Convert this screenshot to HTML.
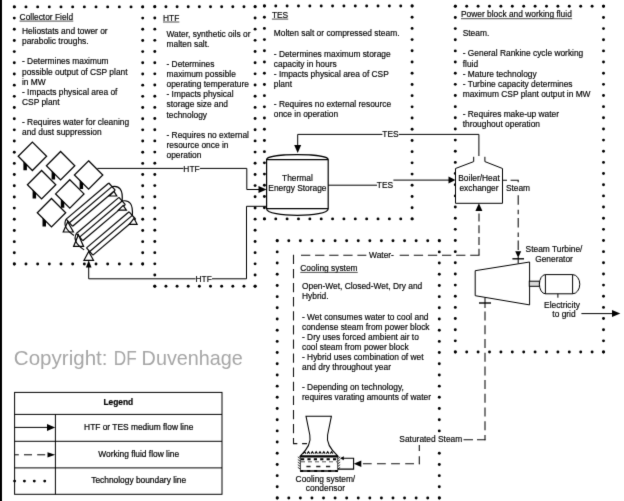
<!DOCTYPE html>
<html><head><meta charset="utf-8"><style>
html,body{margin:0;padding:0;background:#fff;}
svg{display:block;will-change:transform;font-family:"Liberation Sans",sans-serif;}
</style></head><body>
<svg width="624" height="501" viewBox="0 0 624 501">
<defs><filter id="sm" color-interpolation-filters="sRGB" x="0" y="0" width="624" height="501" filterUnits="userSpaceOnUse"><feConvolveMatrix order="3" kernelMatrix="0.01 0.08 0.01 0.08 0.64 0.08 0.01 0.08 0.01" edgeMode="duplicate"/></filter></defs>
<g filter="url(#sm)">
<rect x="0" y="0" width="624" height="501" fill="#fff"/>
<rect x="-2" y="-2" width="4" height="505" fill="#000"/>
<g fill="#000">
<circle cx="14.30" cy="6.90" r="1.45"/>
<circle cx="25.97" cy="6.90" r="1.45"/>
<circle cx="37.65" cy="6.90" r="1.45"/>
<circle cx="49.32" cy="6.90" r="1.45"/>
<circle cx="60.99" cy="6.90" r="1.45"/>
<circle cx="72.66" cy="6.90" r="1.45"/>
<circle cx="84.34" cy="6.90" r="1.45"/>
<circle cx="96.01" cy="6.90" r="1.45"/>
<circle cx="107.68" cy="6.90" r="1.45"/>
<circle cx="119.35" cy="6.90" r="1.45"/>
<circle cx="131.03" cy="6.90" r="1.45"/>
<circle cx="142.70" cy="6.90" r="1.45"/>
<circle cx="14.30" cy="264.00" r="1.45"/>
<circle cx="25.97" cy="264.00" r="1.45"/>
<circle cx="37.65" cy="264.00" r="1.45"/>
<circle cx="49.32" cy="264.00" r="1.45"/>
<circle cx="60.99" cy="264.00" r="1.45"/>
<circle cx="72.66" cy="264.00" r="1.45"/>
<circle cx="84.34" cy="264.00" r="1.45"/>
<circle cx="96.01" cy="264.00" r="1.45"/>
<circle cx="107.68" cy="264.00" r="1.45"/>
<circle cx="119.35" cy="264.00" r="1.45"/>
<circle cx="131.03" cy="264.00" r="1.45"/>
<circle cx="142.70" cy="264.00" r="1.45"/>
<circle cx="14.30" cy="6.90" r="1.45"/>
<circle cx="14.30" cy="18.08" r="1.45"/>
<circle cx="14.30" cy="29.26" r="1.45"/>
<circle cx="14.30" cy="40.43" r="1.45"/>
<circle cx="14.30" cy="51.61" r="1.45"/>
<circle cx="14.30" cy="62.79" r="1.45"/>
<circle cx="14.30" cy="73.97" r="1.45"/>
<circle cx="14.30" cy="85.15" r="1.45"/>
<circle cx="14.30" cy="96.33" r="1.45"/>
<circle cx="14.30" cy="107.50" r="1.45"/>
<circle cx="14.30" cy="118.68" r="1.45"/>
<circle cx="14.30" cy="129.86" r="1.45"/>
<circle cx="14.30" cy="141.04" r="1.45"/>
<circle cx="14.30" cy="152.22" r="1.45"/>
<circle cx="14.30" cy="163.40" r="1.45"/>
<circle cx="14.30" cy="174.57" r="1.45"/>
<circle cx="14.30" cy="185.75" r="1.45"/>
<circle cx="14.30" cy="196.93" r="1.45"/>
<circle cx="14.30" cy="208.11" r="1.45"/>
<circle cx="14.30" cy="219.29" r="1.45"/>
<circle cx="14.30" cy="230.47" r="1.45"/>
<circle cx="14.30" cy="241.64" r="1.45"/>
<circle cx="14.30" cy="252.82" r="1.45"/>
<circle cx="14.30" cy="264.00" r="1.45"/>
<circle cx="142.70" cy="6.90" r="1.45"/>
<circle cx="142.70" cy="18.08" r="1.45"/>
<circle cx="142.70" cy="29.26" r="1.45"/>
<circle cx="142.70" cy="40.43" r="1.45"/>
<circle cx="142.70" cy="51.61" r="1.45"/>
<circle cx="142.70" cy="62.79" r="1.45"/>
<circle cx="142.70" cy="73.97" r="1.45"/>
<circle cx="142.70" cy="85.15" r="1.45"/>
<circle cx="142.70" cy="96.33" r="1.45"/>
<circle cx="142.70" cy="107.50" r="1.45"/>
<circle cx="142.70" cy="118.68" r="1.45"/>
<circle cx="142.70" cy="129.86" r="1.45"/>
<circle cx="142.70" cy="141.04" r="1.45"/>
<circle cx="142.70" cy="152.22" r="1.45"/>
<circle cx="142.70" cy="163.40" r="1.45"/>
<circle cx="142.70" cy="174.57" r="1.45"/>
<circle cx="142.70" cy="185.75" r="1.45"/>
<circle cx="142.70" cy="196.93" r="1.45"/>
<circle cx="142.70" cy="208.11" r="1.45"/>
<circle cx="142.70" cy="219.29" r="1.45"/>
<circle cx="142.70" cy="230.47" r="1.45"/>
<circle cx="142.70" cy="241.64" r="1.45"/>
<circle cx="142.70" cy="252.82" r="1.45"/>
<circle cx="142.70" cy="264.00" r="1.45"/>
<circle cx="154.80" cy="6.80" r="1.45"/>
<circle cx="165.94" cy="6.80" r="1.45"/>
<circle cx="177.09" cy="6.80" r="1.45"/>
<circle cx="188.23" cy="6.80" r="1.45"/>
<circle cx="199.38" cy="6.80" r="1.45"/>
<circle cx="210.52" cy="6.80" r="1.45"/>
<circle cx="221.67" cy="6.80" r="1.45"/>
<circle cx="232.81" cy="6.80" r="1.45"/>
<circle cx="243.96" cy="6.80" r="1.45"/>
<circle cx="255.10" cy="6.80" r="1.45"/>
<circle cx="154.80" cy="286.20" r="1.45"/>
<circle cx="165.94" cy="286.20" r="1.45"/>
<circle cx="177.09" cy="286.20" r="1.45"/>
<circle cx="188.23" cy="286.20" r="1.45"/>
<circle cx="199.38" cy="286.20" r="1.45"/>
<circle cx="210.52" cy="286.20" r="1.45"/>
<circle cx="221.67" cy="286.20" r="1.45"/>
<circle cx="232.81" cy="286.20" r="1.45"/>
<circle cx="243.96" cy="286.20" r="1.45"/>
<circle cx="255.10" cy="286.20" r="1.45"/>
<circle cx="154.80" cy="6.80" r="1.45"/>
<circle cx="154.80" cy="17.98" r="1.45"/>
<circle cx="154.80" cy="29.15" r="1.45"/>
<circle cx="154.80" cy="40.33" r="1.45"/>
<circle cx="154.80" cy="51.50" r="1.45"/>
<circle cx="154.80" cy="62.68" r="1.45"/>
<circle cx="154.80" cy="73.86" r="1.45"/>
<circle cx="154.80" cy="85.03" r="1.45"/>
<circle cx="154.80" cy="96.21" r="1.45"/>
<circle cx="154.80" cy="107.38" r="1.45"/>
<circle cx="154.80" cy="118.56" r="1.45"/>
<circle cx="154.80" cy="129.74" r="1.45"/>
<circle cx="154.80" cy="140.91" r="1.45"/>
<circle cx="154.80" cy="152.09" r="1.45"/>
<circle cx="154.80" cy="163.26" r="1.45"/>
<circle cx="154.80" cy="174.44" r="1.45"/>
<circle cx="154.80" cy="185.62" r="1.45"/>
<circle cx="154.80" cy="196.79" r="1.45"/>
<circle cx="154.80" cy="207.97" r="1.45"/>
<circle cx="154.80" cy="219.14" r="1.45"/>
<circle cx="154.80" cy="230.32" r="1.45"/>
<circle cx="154.80" cy="241.50" r="1.45"/>
<circle cx="154.80" cy="252.67" r="1.45"/>
<circle cx="154.80" cy="263.85" r="1.45"/>
<circle cx="154.80" cy="275.02" r="1.45"/>
<circle cx="154.80" cy="286.20" r="1.45"/>
<circle cx="255.10" cy="6.80" r="1.45"/>
<circle cx="255.10" cy="17.98" r="1.45"/>
<circle cx="255.10" cy="29.15" r="1.45"/>
<circle cx="255.10" cy="40.33" r="1.45"/>
<circle cx="255.10" cy="51.50" r="1.45"/>
<circle cx="255.10" cy="62.68" r="1.45"/>
<circle cx="255.10" cy="73.86" r="1.45"/>
<circle cx="255.10" cy="85.03" r="1.45"/>
<circle cx="255.10" cy="96.21" r="1.45"/>
<circle cx="255.10" cy="107.38" r="1.45"/>
<circle cx="255.10" cy="118.56" r="1.45"/>
<circle cx="255.10" cy="129.74" r="1.45"/>
<circle cx="255.10" cy="140.91" r="1.45"/>
<circle cx="255.10" cy="152.09" r="1.45"/>
<circle cx="255.10" cy="163.26" r="1.45"/>
<circle cx="255.10" cy="174.44" r="1.45"/>
<circle cx="255.10" cy="185.62" r="1.45"/>
<circle cx="255.10" cy="196.79" r="1.45"/>
<circle cx="255.10" cy="207.97" r="1.45"/>
<circle cx="255.10" cy="219.14" r="1.45"/>
<circle cx="255.10" cy="230.32" r="1.45"/>
<circle cx="255.10" cy="241.50" r="1.45"/>
<circle cx="255.10" cy="252.67" r="1.45"/>
<circle cx="255.10" cy="263.85" r="1.45"/>
<circle cx="255.10" cy="275.02" r="1.45"/>
<circle cx="255.10" cy="286.20" r="1.45"/>
<circle cx="264.40" cy="6.00" r="1.45"/>
<circle cx="275.76" cy="6.00" r="1.45"/>
<circle cx="287.12" cy="6.00" r="1.45"/>
<circle cx="298.48" cy="6.00" r="1.45"/>
<circle cx="309.85" cy="6.00" r="1.45"/>
<circle cx="321.21" cy="6.00" r="1.45"/>
<circle cx="332.57" cy="6.00" r="1.45"/>
<circle cx="343.93" cy="6.00" r="1.45"/>
<circle cx="355.29" cy="6.00" r="1.45"/>
<circle cx="366.65" cy="6.00" r="1.45"/>
<circle cx="378.02" cy="6.00" r="1.45"/>
<circle cx="389.38" cy="6.00" r="1.45"/>
<circle cx="400.74" cy="6.00" r="1.45"/>
<circle cx="412.10" cy="6.00" r="1.45"/>
<circle cx="264.40" cy="218.90" r="1.45"/>
<circle cx="275.76" cy="218.90" r="1.45"/>
<circle cx="287.12" cy="218.90" r="1.45"/>
<circle cx="298.48" cy="218.90" r="1.45"/>
<circle cx="309.85" cy="218.90" r="1.45"/>
<circle cx="321.21" cy="218.90" r="1.45"/>
<circle cx="332.57" cy="218.90" r="1.45"/>
<circle cx="343.93" cy="218.90" r="1.45"/>
<circle cx="355.29" cy="218.90" r="1.45"/>
<circle cx="366.65" cy="218.90" r="1.45"/>
<circle cx="378.02" cy="218.90" r="1.45"/>
<circle cx="389.38" cy="218.90" r="1.45"/>
<circle cx="400.74" cy="218.90" r="1.45"/>
<circle cx="412.10" cy="218.90" r="1.45"/>
<circle cx="264.40" cy="6.00" r="1.45"/>
<circle cx="264.40" cy="17.21" r="1.45"/>
<circle cx="264.40" cy="28.41" r="1.45"/>
<circle cx="264.40" cy="39.62" r="1.45"/>
<circle cx="264.40" cy="50.82" r="1.45"/>
<circle cx="264.40" cy="62.03" r="1.45"/>
<circle cx="264.40" cy="73.23" r="1.45"/>
<circle cx="264.40" cy="84.44" r="1.45"/>
<circle cx="264.40" cy="95.64" r="1.45"/>
<circle cx="264.40" cy="106.85" r="1.45"/>
<circle cx="264.40" cy="118.05" r="1.45"/>
<circle cx="264.40" cy="129.26" r="1.45"/>
<circle cx="264.40" cy="140.46" r="1.45"/>
<circle cx="264.40" cy="151.67" r="1.45"/>
<circle cx="264.40" cy="162.87" r="1.45"/>
<circle cx="264.40" cy="174.08" r="1.45"/>
<circle cx="264.40" cy="185.28" r="1.45"/>
<circle cx="264.40" cy="196.49" r="1.45"/>
<circle cx="264.40" cy="207.69" r="1.45"/>
<circle cx="264.40" cy="218.90" r="1.45"/>
<circle cx="412.10" cy="6.00" r="1.45"/>
<circle cx="412.10" cy="17.21" r="1.45"/>
<circle cx="412.10" cy="28.41" r="1.45"/>
<circle cx="412.10" cy="39.62" r="1.45"/>
<circle cx="412.10" cy="50.82" r="1.45"/>
<circle cx="412.10" cy="62.03" r="1.45"/>
<circle cx="412.10" cy="73.23" r="1.45"/>
<circle cx="412.10" cy="84.44" r="1.45"/>
<circle cx="412.10" cy="95.64" r="1.45"/>
<circle cx="412.10" cy="106.85" r="1.45"/>
<circle cx="412.10" cy="118.05" r="1.45"/>
<circle cx="412.10" cy="129.26" r="1.45"/>
<circle cx="412.10" cy="140.46" r="1.45"/>
<circle cx="412.10" cy="151.67" r="1.45"/>
<circle cx="412.10" cy="162.87" r="1.45"/>
<circle cx="412.10" cy="174.08" r="1.45"/>
<circle cx="412.10" cy="185.28" r="1.45"/>
<circle cx="412.10" cy="196.49" r="1.45"/>
<circle cx="412.10" cy="207.69" r="1.45"/>
<circle cx="412.10" cy="218.90" r="1.45"/>
<circle cx="455.30" cy="6.30" r="1.45"/>
<circle cx="466.70" cy="6.30" r="1.45"/>
<circle cx="478.10" cy="6.30" r="1.45"/>
<circle cx="489.50" cy="6.30" r="1.45"/>
<circle cx="500.90" cy="6.30" r="1.45"/>
<circle cx="512.30" cy="6.30" r="1.45"/>
<circle cx="523.70" cy="6.30" r="1.45"/>
<circle cx="535.10" cy="6.30" r="1.45"/>
<circle cx="546.50" cy="6.30" r="1.45"/>
<circle cx="557.90" cy="6.30" r="1.45"/>
<circle cx="569.30" cy="6.30" r="1.45"/>
<circle cx="580.70" cy="6.30" r="1.45"/>
<circle cx="592.10" cy="6.30" r="1.45"/>
<circle cx="603.50" cy="6.30" r="1.45"/>
<circle cx="455.30" cy="352.00" r="1.45"/>
<circle cx="466.70" cy="352.00" r="1.45"/>
<circle cx="478.10" cy="352.00" r="1.45"/>
<circle cx="489.50" cy="352.00" r="1.45"/>
<circle cx="500.90" cy="352.00" r="1.45"/>
<circle cx="512.30" cy="352.00" r="1.45"/>
<circle cx="523.70" cy="352.00" r="1.45"/>
<circle cx="535.10" cy="352.00" r="1.45"/>
<circle cx="546.50" cy="352.00" r="1.45"/>
<circle cx="557.90" cy="352.00" r="1.45"/>
<circle cx="569.30" cy="352.00" r="1.45"/>
<circle cx="580.70" cy="352.00" r="1.45"/>
<circle cx="592.10" cy="352.00" r="1.45"/>
<circle cx="603.50" cy="352.00" r="1.45"/>
<circle cx="455.30" cy="6.30" r="1.45"/>
<circle cx="455.30" cy="17.45" r="1.45"/>
<circle cx="455.30" cy="28.60" r="1.45"/>
<circle cx="455.30" cy="39.75" r="1.45"/>
<circle cx="455.30" cy="50.91" r="1.45"/>
<circle cx="455.30" cy="62.06" r="1.45"/>
<circle cx="455.30" cy="73.21" r="1.45"/>
<circle cx="455.30" cy="84.36" r="1.45"/>
<circle cx="455.30" cy="95.51" r="1.45"/>
<circle cx="455.30" cy="106.66" r="1.45"/>
<circle cx="455.30" cy="117.82" r="1.45"/>
<circle cx="455.30" cy="128.97" r="1.45"/>
<circle cx="455.30" cy="140.12" r="1.45"/>
<circle cx="455.30" cy="151.27" r="1.45"/>
<circle cx="455.30" cy="162.42" r="1.45"/>
<circle cx="455.30" cy="173.57" r="1.45"/>
<circle cx="455.30" cy="184.73" r="1.45"/>
<circle cx="455.30" cy="195.88" r="1.45"/>
<circle cx="455.30" cy="207.03" r="1.45"/>
<circle cx="455.30" cy="218.18" r="1.45"/>
<circle cx="455.30" cy="229.33" r="1.45"/>
<circle cx="455.30" cy="240.48" r="1.45"/>
<circle cx="455.30" cy="251.64" r="1.45"/>
<circle cx="455.30" cy="262.79" r="1.45"/>
<circle cx="455.30" cy="273.94" r="1.45"/>
<circle cx="455.30" cy="285.09" r="1.45"/>
<circle cx="455.30" cy="296.24" r="1.45"/>
<circle cx="455.30" cy="307.39" r="1.45"/>
<circle cx="455.30" cy="318.55" r="1.45"/>
<circle cx="455.30" cy="329.70" r="1.45"/>
<circle cx="455.30" cy="340.85" r="1.45"/>
<circle cx="455.30" cy="352.00" r="1.45"/>
<circle cx="603.50" cy="6.30" r="1.45"/>
<circle cx="603.50" cy="17.45" r="1.45"/>
<circle cx="603.50" cy="28.60" r="1.45"/>
<circle cx="603.50" cy="39.75" r="1.45"/>
<circle cx="603.50" cy="50.91" r="1.45"/>
<circle cx="603.50" cy="62.06" r="1.45"/>
<circle cx="603.50" cy="73.21" r="1.45"/>
<circle cx="603.50" cy="84.36" r="1.45"/>
<circle cx="603.50" cy="95.51" r="1.45"/>
<circle cx="603.50" cy="106.66" r="1.45"/>
<circle cx="603.50" cy="117.82" r="1.45"/>
<circle cx="603.50" cy="128.97" r="1.45"/>
<circle cx="603.50" cy="140.12" r="1.45"/>
<circle cx="603.50" cy="151.27" r="1.45"/>
<circle cx="603.50" cy="162.42" r="1.45"/>
<circle cx="603.50" cy="173.57" r="1.45"/>
<circle cx="603.50" cy="184.73" r="1.45"/>
<circle cx="603.50" cy="195.88" r="1.45"/>
<circle cx="603.50" cy="207.03" r="1.45"/>
<circle cx="603.50" cy="218.18" r="1.45"/>
<circle cx="603.50" cy="229.33" r="1.45"/>
<circle cx="603.50" cy="240.48" r="1.45"/>
<circle cx="603.50" cy="251.64" r="1.45"/>
<circle cx="603.50" cy="262.79" r="1.45"/>
<circle cx="603.50" cy="273.94" r="1.45"/>
<circle cx="603.50" cy="285.09" r="1.45"/>
<circle cx="603.50" cy="296.24" r="1.45"/>
<circle cx="603.50" cy="307.39" r="1.45"/>
<circle cx="603.50" cy="318.55" r="1.45"/>
<circle cx="603.50" cy="329.70" r="1.45"/>
<circle cx="603.50" cy="340.85" r="1.45"/>
<circle cx="603.50" cy="352.00" r="1.45"/>
<circle cx="277.20" cy="240.70" r="1.45"/>
<circle cx="288.78" cy="240.70" r="1.45"/>
<circle cx="300.36" cy="240.70" r="1.45"/>
<circle cx="311.94" cy="240.70" r="1.45"/>
<circle cx="323.51" cy="240.70" r="1.45"/>
<circle cx="335.09" cy="240.70" r="1.45"/>
<circle cx="346.67" cy="240.70" r="1.45"/>
<circle cx="358.25" cy="240.70" r="1.45"/>
<circle cx="369.83" cy="240.70" r="1.45"/>
<circle cx="381.41" cy="240.70" r="1.45"/>
<circle cx="392.99" cy="240.70" r="1.45"/>
<circle cx="404.56" cy="240.70" r="1.45"/>
<circle cx="416.14" cy="240.70" r="1.45"/>
<circle cx="427.72" cy="240.70" r="1.45"/>
<circle cx="439.30" cy="240.70" r="1.45"/>
<circle cx="277.20" cy="498.00" r="1.45"/>
<circle cx="288.78" cy="498.00" r="1.45"/>
<circle cx="300.36" cy="498.00" r="1.45"/>
<circle cx="311.94" cy="498.00" r="1.45"/>
<circle cx="323.51" cy="498.00" r="1.45"/>
<circle cx="335.09" cy="498.00" r="1.45"/>
<circle cx="346.67" cy="498.00" r="1.45"/>
<circle cx="358.25" cy="498.00" r="1.45"/>
<circle cx="369.83" cy="498.00" r="1.45"/>
<circle cx="381.41" cy="498.00" r="1.45"/>
<circle cx="392.99" cy="498.00" r="1.45"/>
<circle cx="404.56" cy="498.00" r="1.45"/>
<circle cx="416.14" cy="498.00" r="1.45"/>
<circle cx="427.72" cy="498.00" r="1.45"/>
<circle cx="439.30" cy="498.00" r="1.45"/>
<circle cx="277.20" cy="240.70" r="1.45"/>
<circle cx="277.20" cy="251.89" r="1.45"/>
<circle cx="277.20" cy="263.07" r="1.45"/>
<circle cx="277.20" cy="274.26" r="1.45"/>
<circle cx="277.20" cy="285.45" r="1.45"/>
<circle cx="277.20" cy="296.63" r="1.45"/>
<circle cx="277.20" cy="307.82" r="1.45"/>
<circle cx="277.20" cy="319.01" r="1.45"/>
<circle cx="277.20" cy="330.20" r="1.45"/>
<circle cx="277.20" cy="341.38" r="1.45"/>
<circle cx="277.20" cy="352.57" r="1.45"/>
<circle cx="277.20" cy="363.76" r="1.45"/>
<circle cx="277.20" cy="374.94" r="1.45"/>
<circle cx="277.20" cy="386.13" r="1.45"/>
<circle cx="277.20" cy="397.32" r="1.45"/>
<circle cx="277.20" cy="408.50" r="1.45"/>
<circle cx="277.20" cy="419.69" r="1.45"/>
<circle cx="277.20" cy="430.88" r="1.45"/>
<circle cx="277.20" cy="442.07" r="1.45"/>
<circle cx="277.20" cy="453.25" r="1.45"/>
<circle cx="277.20" cy="464.44" r="1.45"/>
<circle cx="277.20" cy="475.63" r="1.45"/>
<circle cx="277.20" cy="486.81" r="1.45"/>
<circle cx="277.20" cy="498.00" r="1.45"/>
<circle cx="439.30" cy="240.70" r="1.45"/>
<circle cx="439.30" cy="251.89" r="1.45"/>
<circle cx="439.30" cy="263.07" r="1.45"/>
<circle cx="439.30" cy="274.26" r="1.45"/>
<circle cx="439.30" cy="285.45" r="1.45"/>
<circle cx="439.30" cy="296.63" r="1.45"/>
<circle cx="439.30" cy="307.82" r="1.45"/>
<circle cx="439.30" cy="319.01" r="1.45"/>
<circle cx="439.30" cy="330.20" r="1.45"/>
<circle cx="439.30" cy="341.38" r="1.45"/>
<circle cx="439.30" cy="352.57" r="1.45"/>
<circle cx="439.30" cy="363.76" r="1.45"/>
<circle cx="439.30" cy="374.94" r="1.45"/>
<circle cx="439.30" cy="386.13" r="1.45"/>
<circle cx="439.30" cy="397.32" r="1.45"/>
<circle cx="439.30" cy="408.50" r="1.45"/>
<circle cx="439.30" cy="419.69" r="1.45"/>
<circle cx="439.30" cy="430.88" r="1.45"/>
<circle cx="439.30" cy="442.07" r="1.45"/>
<circle cx="439.30" cy="453.25" r="1.45"/>
<circle cx="439.30" cy="464.44" r="1.45"/>
<circle cx="439.30" cy="475.63" r="1.45"/>
<circle cx="439.30" cy="486.81" r="1.45"/>
<circle cx="439.30" cy="498.00" r="1.45"/>
</g>
<g fill="#000" stroke="#000" stroke-width="0.16">
<text x="19.6" y="19.6" font-size="8.4">Collector Field</text>
<line x1="19.6" y1="21.1" x2="73.28" y2="21.1" stroke="#3a3a3a" stroke-width="0.9"/>
<text x="22" y="34.1" text-anchor="start" font-size="8.4" >Heliostats and tower or</text>
<text x="22" y="44.2" text-anchor="start" font-size="8.4" >parabolic troughs.</text>
<text x="22" y="64.4" text-anchor="start" font-size="8.4" >- Determines maximum</text>
<text x="22" y="74.5" text-anchor="start" font-size="8.4" >possible output of CSP plant</text>
<text x="22" y="84.6" text-anchor="start" font-size="8.4" >in MW</text>
<text x="22" y="94.7" text-anchor="start" font-size="8.4" >- Impacts physical area of</text>
<text x="22" y="104.8" text-anchor="start" font-size="8.4" >CSP plant</text>
<text x="22" y="125.0" text-anchor="start" font-size="8.4" >- Requires water for cleaning</text>
<text x="22" y="135.1" text-anchor="start" font-size="8.4" >and dust suppression</text>
<text x="163" y="20.8" font-size="8.4">HTF</text>
<line x1="163" y1="22" x2="179.33" y2="22" stroke="#3a3a3a" stroke-width="0.9"/>
<text x="166.5" y="36.7" text-anchor="start" font-size="8.4" >Water, synthetic oils or</text>
<text x="166.5" y="46.8" text-anchor="start" font-size="8.4" >malten salt.</text>
<text x="166.5" y="67.0" text-anchor="start" font-size="8.4" >- Determines</text>
<text x="166.5" y="77.1" text-anchor="start" font-size="8.4" >maximum possible</text>
<text x="166.5" y="87.2" text-anchor="start" font-size="8.4" >operating temperature</text>
<text x="166.5" y="97.3" text-anchor="start" font-size="8.4" >- Impacts physical</text>
<text x="166.5" y="107.4" text-anchor="start" font-size="8.4" >storage size and</text>
<text x="166.5" y="117.5" text-anchor="start" font-size="8.4" >technology</text>
<text x="166.5" y="137.7" text-anchor="start" font-size="8.4" >- Requires no external</text>
<text x="166.5" y="147.8" text-anchor="start" font-size="8.4" >resource once in</text>
<text x="166.5" y="157.9" text-anchor="start" font-size="8.4" >operation</text>
<text x="271.9" y="18.1" font-size="8.4">TES</text>
<line x1="271.9" y1="19.1" x2="288.24" y2="19.1" stroke="#3a3a3a" stroke-width="0.9"/>
<text x="273.8" y="36.3" text-anchor="start" font-size="8.4" >Molten salt or compressed steam.</text>
<text x="273.8" y="56.5" text-anchor="start" font-size="8.4" >- Determines maximum storage</text>
<text x="273.8" y="66.6" text-anchor="start" font-size="8.4" >capacity in hours</text>
<text x="273.8" y="76.7" text-anchor="start" font-size="8.4" >- Impacts physical area of CSP</text>
<text x="273.8" y="86.8" text-anchor="start" font-size="8.4" >plant</text>
<text x="273.8" y="107.0" text-anchor="start" font-size="8.4" >- Requires no external resource</text>
<text x="273.8" y="117.1" text-anchor="start" font-size="8.4" >once in operation</text>
<text x="461" y="17.3" font-size="8.4">Power block and working fluid</text>
<line x1="461" y1="18.7" x2="572.12" y2="18.7" stroke="#3a3a3a" stroke-width="0.9"/>
<text x="462.7" y="36.2" text-anchor="start" font-size="8.4" >Steam.</text>
<text x="462.7" y="56.4" text-anchor="start" font-size="8.4" >- General Rankine cycle working</text>
<text x="462.7" y="66.5" text-anchor="start" font-size="8.4" >fluid</text>
<text x="462.7" y="76.6" text-anchor="start" font-size="8.4" >- Mature technology</text>
<text x="462.7" y="86.7" text-anchor="start" font-size="8.4" >- Turbine capacity determines</text>
<text x="462.7" y="96.8" text-anchor="start" font-size="8.4" >maximum CSP plant output in MW</text>
<text x="462.7" y="117.0" text-anchor="start" font-size="8.4" >- Requires make-up water</text>
<text x="462.7" y="127.1" text-anchor="start" font-size="8.4" >throughout operation</text>
<text x="300.3" y="270.7" font-size="8.4">Cooling system</text>
<line x1="300.3" y1="272.4" x2="357.72" y2="272.4" stroke="#3a3a3a" stroke-width="0.9"/>
<text x="302" y="289.3" text-anchor="start" font-size="8.4" >Open-Wet, Closed-Wet, Dry and</text>
<text x="302" y="299.4" text-anchor="start" font-size="8.4" >Hybrid.</text>
<text x="302" y="319.6" text-anchor="start" font-size="8.4" >- Wet consumes water to cool and</text>
<text x="302" y="329.7" text-anchor="start" font-size="8.4" >condense steam from power block</text>
<text x="302" y="339.8" text-anchor="start" font-size="8.4" >- Dry uses forced ambient air to</text>
<text x="302" y="349.9" text-anchor="start" font-size="8.4" >cool steam from power block</text>
<text x="302" y="360.0" text-anchor="start" font-size="8.4" >- Hybrid uses combination of wet</text>
<text x="302" y="370.1" text-anchor="start" font-size="8.4" >and dry throughout year</text>
<text x="302" y="390.3" text-anchor="start" font-size="8.4" >- Depending on technology,</text>
<text x="302" y="400.4" text-anchor="start" font-size="8.4" >requires varating amounts of water</text>
</g>
<g fill="#a6a6a6" font-size="21">
<text x="13.8" y="365" textLength="93.7" lengthAdjust="spacingAndGlyphs">Copyright:</text>
<text x="113.8" y="365" textLength="23" lengthAdjust="spacingAndGlyphs">DF</text>
<text x="141.6" y="365" textLength="101.2" lengthAdjust="spacingAndGlyphs">Duvenhage</text>
</g>
<g fill="none" stroke="#000" stroke-width="1">
<rect x="14.6" y="392.4" width="207.4" height="101.9"/>
<line x1="14.6" y1="414.4" x2="222" y2="414.4"/>
<line x1="14.6" y1="441.3" x2="222" y2="441.3"/>
<line x1="14.6" y1="467.9" x2="222" y2="467.9"/>
<line x1="55.4" y1="414.4" x2="55.4" y2="494.3"/>
<line x1="14.6" y1="427.4" x2="48" y2="427.4"/>
<line x1="14.8" y1="454.8" x2="48" y2="454.8" stroke-dasharray="4,5.2,8,5.2,8,5.2"/>
</g>
<g fill="#000">
<polygon points="47,423.9 55.2,427.4 47,430.9"/>
<polygon points="47.5,452.2 55.2,454.8 47.5,457.4"/>
<circle cx="14.6" cy="481.1" r="1.45"/>
<circle cx="24.4" cy="481.1" r="1.45"/>
<circle cx="34.3" cy="481.1" r="1.45"/>
<circle cx="44.7" cy="481.1" r="1.45"/>
</g>
<g fill="#000" stroke="#000" stroke-width="0.2">
<text x="118.3" y="404.7" text-anchor="middle" font-size="8.4" font-weight="bold">Legend</text>
<text x="138.7" y="430" text-anchor="middle" font-size="8.4" >HTF or TES medium flow line</text>
<text x="138.7" y="457" text-anchor="middle" font-size="8.4" >Working fluid flow line</text>
<text x="138.7" y="483.4" text-anchor="middle" font-size="8.4" >Technology boundary line</text>
</g>
<g fill="#fff" stroke="#000" stroke-width="1.25">
<polygon points="32.4,142.10000000000002 46.599999999999994,156.3 32.4,170.5 18.2,156.3"/>
<polygon points="60.6,151.5 74.8,165.7 60.6,179.89999999999998 46.400000000000006,165.7"/>
<polygon points="88.6,160.8 102.8,175 88.6,189.2 74.39999999999999,175"/>
<polygon points="41.6,170.5 55.8,184.7 41.6,198.89999999999998 27.400000000000002,184.7"/>
<polygon points="69.8,179.70000000000002 84.0,193.9 69.8,208.1 55.599999999999994,193.9"/>
<polygon points="51.5,198.5 65.7,212.7 51.5,226.89999999999998 37.3,212.7"/>
</g>
<g fill="#000">
<polygon points="23.40,161.10 26.90,164.60 26.90,170.20 23.40,170.20"/>
<polygon points="51.60,170.50 55.10,174.00 55.10,179.60 51.60,179.60"/>
<polygon points="79.60,179.80 83.10,183.30 83.10,188.90 79.60,188.90"/>
<polygon points="32.60,189.50 36.10,193.00 36.10,198.60 32.60,198.60"/>
<polygon points="60.80,198.70 64.30,202.20 64.30,207.80 60.80,207.80"/>
<polygon points="42.50,217.50 46.00,221.00 46.00,226.60 42.50,226.60"/>
</g>
<g fill="none" stroke="#000" stroke-width="1.2">
<line x1="66.20" y1="219.10" x2="108.80" y2="183.00"/>
<line x1="69.40" y1="222.70" x2="112.00" y2="186.60"/>
<line x1="72.60" y1="226.30" x2="115.20" y2="190.20"/>
<line x1="66.20" y1="219.10" x2="72.60" y2="226.30"/>
<line x1="108.80" y1="183.00" x2="115.20" y2="190.20"/>
<path d="M112.00,186.60 Q123.50,184.40 122.15,201.00"/>
<line x1="76.35" y1="233.50" x2="118.95" y2="197.40"/>
<line x1="79.55" y1="237.10" x2="122.15" y2="201.00"/>
<line x1="82.75" y1="240.70" x2="125.35" y2="204.60"/>
<line x1="76.35" y1="233.50" x2="82.75" y2="240.70"/>
<line x1="118.95" y1="197.40" x2="125.35" y2="204.60"/>
<path d="M122.15,201.00 Q133.65,198.80 132.30,215.40"/>
<line x1="86.50" y1="247.90" x2="129.10" y2="211.80"/>
<line x1="89.70" y1="251.50" x2="132.30" y2="215.40"/>
<line x1="92.90" y1="255.10" x2="135.50" y2="219.00"/>
<line x1="86.50" y1="247.90" x2="92.90" y2="255.10"/>
<line x1="129.10" y1="211.80" x2="135.50" y2="219.00"/>
</g>
<g fill="#fff" stroke="#000" stroke-width="1.2">
<polygon points="63.2,232 73.4,232 67.7,221.8"/>
<polygon points="73.6,246.4 83.6,246.4 78.4,234.8"/>
<polygon points="84,260.3 93.5,260.3 88.7,251.5"/>
<polygon points="109.2,196 116.8,196 114,191.4"/>
<polygon points="118.4,210.2 126.4,210.2 123.2,205.4"/>
<polygon points="129.3,224.3 137.1,224.3 134,218.3"/>
</g>
<g fill="none" stroke="#000" stroke-width="1.1"><path d="M66.20,219.10 Q61.60,227.30 74.00,235.50"/><path d="M76.35,233.50 Q71.75,241.70 84.15,249.90"/></g>
<g fill="none" stroke="#000" stroke-width="1">
<polyline points="97.4,168.4 246.8,168.4 246.8,189.5 259,189.5"/>
<polyline points="266.6,206.3 246.5,206.3 246.5,278.8 88.7,278.8 88.7,267"/>
<polyline points="297.7,146 297.7,134.4 478.9,134.4 478.9,156"/>
<polyline points="327.5,185.2 377,185.2"/>
<polyline points="393.4,180.1 449,180.1"/>
<line x1="581.4" y1="313.6" x2="613" y2="313.6"/>
</g>
<g fill="#fff">
<rect x="183.4" y="163" width="16.4" height="10"/>
<rect x="195.6" y="274" width="16.4" height="10"/>
<rect x="382.4" y="129" width="16.4" height="10"/>
</g>
<g fill="#000" stroke="#000" stroke-width="0.16">
<text x="191.5" y="171.5" text-anchor="middle" font-size="8.4" >HTF</text>
<text x="203.7" y="281.8" text-anchor="middle" font-size="8.4" >HTF</text>
<text x="390.5" y="137.4" text-anchor="middle" font-size="8.4" >TES</text>
<text x="385" y="187.8" text-anchor="middle" font-size="8.4" >TES</text>
</g>
<g fill="#000">
<polygon points="258.5,186 266.6,189.5 258.5,193"/>
<polygon points="85.9,267.5 88.7,260.3 91.5,267.5"/>
<polygon points="294.2,145 297.7,153 301.2,145"/>
<polygon points="448.5,176.6 455.5,180.1 448.5,183.6"/>
<polygon points="475.4,211 478.9,203.3 482.4,211"/>
<polygon points="612,310.1 620.3,313.6 612,317.1"/>
<polygon points="515.2,251.2 518.2,257.8 521.2,251.2"/>
<polygon points="361.3,460.5 353.8,463.7 361.3,466.9"/>
</g>
<g fill="#fff" stroke="#000" stroke-width="1.2">
<path d="M266.6,159.6 C266.6,153 328.2,153 328.2,159.6 L328.2,208.7 C328.2,217.6 266.6,217.6 266.6,208.7 Z"/>
<line x1="266.6" y1="159.6" x2="328.2" y2="159.6" fill="none"/>
<line x1="266.6" y1="208.7" x2="328.2" y2="208.7" fill="none"/>
</g>
<g fill="#000" stroke="#000" stroke-width="0.16">
<text x="297.4" y="181" text-anchor="middle" font-size="8.4" >Thermal</text>
<text x="297.4" y="190.7" text-anchor="middle" font-size="8.4" >Energy Storage</text>
</g>
<g fill="#fff" stroke="#000" stroke-width="1">
<path d="M473.7,156.8 L473.7,161.6 L455.5,168.5 L455.5,203.3 L502.5,203.3 L502.5,168.5 L484.9,161.6 L484.9,156.8"/>
</g>
<g fill="#000" stroke="#000" stroke-width="0.16">
<text x="479" y="181.3" text-anchor="middle" font-size="8.4" >Boiler/Heat</text>
<text x="479" y="191" text-anchor="middle" font-size="8.4" >exchanger</text>
</g>
<g fill="none" stroke="#111" stroke-width="1.1">
<polyline stroke-dasharray="4.5,3.6,9.5,5" points="502.5,180.3 518.2,180.3 518.2,251"/>
<line stroke-dasharray="8,3.7" stroke-dashoffset="9.1" x1="479" y1="211" x2="479" y2="255.3"/>
<line stroke-dasharray="9.3,4.8" x1="479.5" y1="255.3" x2="299" y2="255.3"/>
<polyline stroke-dasharray="9.3,4.8" points="293.5,254.8 293.5,443.6 307,443.6"/>
<line stroke-dasharray="9,4.7" stroke-dashoffset="-4" x1="485" y1="307.6" x2="485" y2="440.2"/>
<line stroke-dasharray="8.5,4,10.5" x1="485.5" y1="439.7" x2="462.5" y2="439.7"/>
<line stroke-dasharray="6.2,5.3,8.5,20" x1="419.3" y1="444.7" x2="419.3" y2="464.2"/>
<line stroke-dasharray="8.8,5.3" stroke-dashoffset="8.3" x1="419.8" y1="463.7" x2="361.3" y2="463.7"/>
<line x1="518.2" y1="257" x2="518.2" y2="263.5"/>
<line x1="485" y1="297.4" x2="485" y2="308"/>
</g>
<rect x="366.5" y="249" width="31" height="11" fill="#fff"/>
<rect x="505" y="183" width="26" height="10" fill="#fff"/>
<rect x="398" y="434" width="65.5" height="11" fill="#fff"/>
<g fill="#000" stroke="#000" stroke-width="0.16">
<text x="381.5" y="257.8" text-anchor="middle" font-size="8.4" >Water-</text>
<text x="430.8" y="442" text-anchor="middle" font-size="8.4" >Saturated Steam</text>
<text x="518" y="190.5" text-anchor="middle" font-size="8.4" >Steam</text>
</g>
<g fill="#fff" stroke="#000" stroke-width="1">
<polygon points="475.2,270.7 529.6,262 529.6,304.9 475.2,295.7"/>
<rect x="529.3" y="281.2" width="10.1" height="5.1" fill="#d9d9d9"/>
<path d="M545.4,274.6 L572.6,274.6 A7.2,9.6 0 0 1 572.6,293.8 L545.4,293.8 A6,9.6 0 0 1 545.4,274.6 Z"/>
<line x1="545.4" y1="274.6" x2="545.4" y2="293.8"/>
<line x1="572.6" y1="274.6" x2="572.6" y2="293.8"/>
<line x1="557.9" y1="293.8" x2="557.9" y2="297.7"/>
<line x1="512.4" y1="258.8" x2="524" y2="258.8" stroke-width="1.4"/>

<line x1="479" y1="303" x2="491" y2="303" stroke-width="1.4"/>

</g>
<g fill="#000" stroke="#000" stroke-width="0.16">
<text x="554" y="252.3" text-anchor="middle" font-size="8.4" >Steam Turbine/</text>
<text x="554" y="262" text-anchor="middle" font-size="8.4" >Generator</text>
<text x="562" y="307.5" text-anchor="middle" font-size="8.4" >Electricity</text>
<text x="564" y="316.7" text-anchor="middle" font-size="8.4" >to grid</text>
</g>
<g fill="#fff" stroke="#000" stroke-width="1.05">
<path d="M306,416.2 L331.4,416.2 L327.6,435 Q325.6,445 337.9,456.1 L300.2,456.1 Q312,445 309.8,435 Z"/>
</g>
<g fill="none" stroke="#000">
<line x1="300.2" y1="456.6" x2="337.9" y2="456.6" stroke-width="2"/>
<line x1="301" y1="459.2" x2="337" y2="459.2" stroke-width="2" stroke-dasharray="3.2,3.2"/>
<line x1="301" y1="461.8" x2="337" y2="461.8" stroke-width="1" stroke="#555" stroke-dasharray="4,3"/>
<line x1="306.4" y1="466.5" x2="333" y2="466.5" stroke-width="1.3" stroke="#222" stroke-dasharray="4.2,5.6"/>
<line x1="300.2" y1="471" x2="337.9" y2="471" stroke-width="1.8" stroke="#444"/>
<line x1="300.2" y1="471" x2="337.9" y2="471" stroke-width="1.8" stroke="#000" stroke-dasharray="3,4"/>
<path stroke-width="0.8" d="M300,458.5 l-2.2,-1.6 M338,458.5 l2.2,-1.6 M300,461.1 l-2.2,-1.6 M338,461.1 l2.2,-1.6 M300,463.7 l-2.2,-1.6 M338,463.7 l2.2,-1.6 M300,466.3 l-2.2,-1.6 M338,466.3 l2.2,-1.6 M300,468.9 l-2.2,-1.6 M338,468.9 l2.2,-1.6"/>
<line x1="300.4" y1="457" x2="300.4" y2="471" stroke-width="0.9" stroke="#222"/>
<line x1="337.7" y1="457" x2="337.7" y2="471" stroke-width="0.9" stroke="#222"/>
<path stroke-width="1.1" d="M303.30,453.6 l1.3,-1.8 l1.3,1.8 M307.15,453.6 l1.3,-1.8 l1.3,1.8 M311.00,453.6 l1.3,-1.8 l1.3,1.8 M314.85,453.6 l1.3,-1.8 l1.3,1.8 M318.70,453.6 l1.3,-1.8 l1.3,1.8 M322.55,453.6 l1.3,-1.8 l1.3,1.8 M326.40,453.6 l1.3,-1.8 l1.3,1.8 M330.25,453.6 l1.3,-1.8 l1.3,1.8"/>
</g>
<g fill="none" stroke="#000" stroke-width="1.1">
<polyline points="341.5,458.2 353.6,458.2 353.6,469.1 338,469.1"/>
</g>
<polygon points="343.8,456.2 340,458.2 343.8,460.2" fill="#000"/>
<g fill="#000" stroke="#000" stroke-width="0.16">
<text x="325.4" y="481.7" text-anchor="middle" font-size="8.4" >Cooling system/</text>
<text x="325.4" y="490.8" text-anchor="middle" font-size="8.4" >condensor</text>
</g>
</g>
</svg></body></html>
